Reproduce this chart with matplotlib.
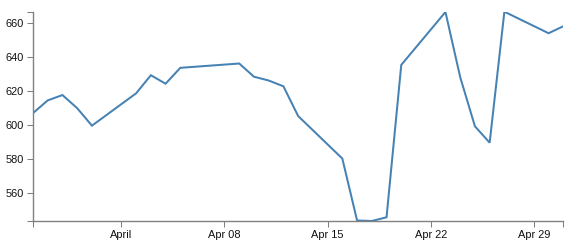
import numpy as np
import pandas as pd
import matplotlib
matplotlib.use("Agg")
from matplotlib import pyplot as plt
import matplotlib.dates as mdates

# 收盘价数据
dates = [
    "2012-03-26", "2012-03-27", "2012-03-28", "2012-03-29", "2012-03-30",
    "2012-04-02", "2012-04-03", "2012-04-04", "2012-04-05", "2012-04-09",
    "2012-04-10", "2012-04-11", "2012-04-12", "2012-04-13", "2012-04-16",
    "2012-04-17", "2012-04-18", "2012-04-19", "2012-04-20", "2012-04-23",
    "2012-04-24", "2012-04-25", "2012-04-26", "2012-04-27", "2012-04-30",
    "2012-05-01",
]
close = [
    606.98, 614.48, 617.62, 609.86, 599.55,
    618.63, 629.32, 624.31, 633.68, 636.23,
    628.44, 626.20, 622.77, 605.23, 580.13,
    543.6, 543.3, 545.5, 635.4, 666.6,
    628.2, 599.2, 589.5, 666.8, 654.1,
    658.2,
]

x_tick_dates = ["2012-04-01", "2012-04-08", "2012-04-15", "2012-04-22", "2012-04-29"]
x_tick_labels = ["April", "Apr 08", "Apr 15", "Apr 22", "Apr 29"]
y_ticks = [560, 580, 600, 620, 640, 660]


def main():
    x = pd.to_datetime(dates)
    y = np.array(close)

    plt.rcParams["font.family"] = ["Liberation Sans", "DejaVu Sans"]
    fig = plt.figure(figsize=(5.78, 2.49), dpi=100)
    ax = fig.add_axes([33 / 578, 28 / 249, 530.3 / 578, 209.3 / 249])

    ax.plot(x, y, color="#4682b4", linewidth=1.45, solid_joinstyle="miter")

    ax.set_xlim(x.min(), x.max())
    ax.set_ylim(y.min(), y.max())

    for s in ["top", "right"]:
        ax.spines[s].set_visible(False)
    for s in ["left", "bottom"]:
        ax.spines[s].set_color("#808080")
        ax.spines[s].set_linewidth(1.0)

    ax.set_xticks(mdates.date2num(pd.to_datetime(x_tick_dates)))
    ax.set_xticklabels(x_tick_labels)
    ax.set_yticks(y_ticks)
    ax.set_yticklabels([str(v) for v in y_ticks])

    # 轴两端的外侧刻度
    ax.set_xticks([mdates.date2num(x.min()), mdates.date2num(x.max())], minor=True)
    ax.set_yticks([y.min(), y.max()], minor=True)

    ax.tick_params(which="both", length=4.3, width=0.75, color="#808080",
                   labelsize=7.9, labelcolor="#111111", pad=2.2)

    fig.savefig("out.png", dpi=100)


if __name__ == "__main__":
    main()
